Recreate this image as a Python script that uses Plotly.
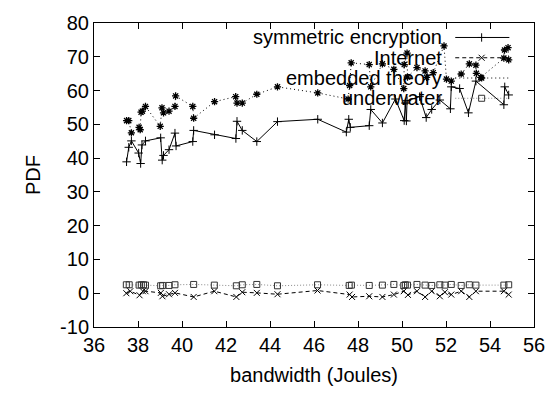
import plotly.graph_objects as go

# ---- data ----
sym_x = [37.48, 37.58, 37.70, 38.03, 38.12, 38.18, 38.34, 39.03, 39.10, 39.16, 39.41, 39.68, 39.73,
         40.49, 40.53, 41.48, 42.45, 42.50, 42.74, 43.40, 44.34, 46.17, 47.47, 47.58, 47.65, 48.51,
         48.58, 49.11, 49.70, 50.10, 50.15, 50.20, 50.23, 50.80, 51.10, 51.35, 51.72, 52.20, 52.24,
         52.62, 53.02, 53.36, 54.63, 54.67, 54.85]
sym_y = [38.9, 43.2, 45.1, 41.5, 38.4, 43.9, 45.1, 46.0, 39.4, 40.8, 42.5, 47.4, 43.6,
         44.9, 48.2, 46.9, 45.8, 50.9, 48.2, 44.9, 50.8, 51.5, 47.7, 51.5, 49.1, 49.6,
         54.4, 50.4, 57.5, 51.1, 56.3, 51.0, 57.0, 58.2, 52.0, 54.4, 57.2, 54.6, 61.1,
         60.6, 53.4, 62.8, 55.8, 61.1, 58.7]

emb_x = [37.48, 37.58, 37.70, 38.05, 38.10, 38.14, 38.20, 38.34, 39.01, 39.09, 39.16, 39.41, 39.68,
         39.71, 40.49, 40.53, 41.48, 42.44, 42.50, 42.74, 43.40, 44.34, 46.17, 47.55, 47.62, 47.69,
         48.51, 48.58, 49.11, 49.63, 50.08, 50.10, 50.23, 50.25, 50.68, 51.05, 51.12, 51.42, 51.91,
         52.02, 52.24, 52.69, 53.06, 53.36, 53.38, 53.58, 54.63, 54.66, 54.82, 54.85]
emb_y = [51.1, 51.1, 47.5, 49.1, 48.4, 53.6, 53.9, 55.3, 49.4, 54.9, 53.4, 53.9, 55.3,
         58.4, 55.3, 51.8, 56.7, 58.2, 56.3, 56.3, 58.9, 61.1, 59.3, 57.5, 61.5, 68.2,
         67.7, 61.1, 67.9, 66.3, 60.6, 67.7, 71.1, 64.0, 66.8, 65.8, 63.9, 65.3, 73.2,
         63.4, 62.8, 64.9, 67.9, 67.5, 65.1, 63.9, 69.6, 72.0, 72.7, 69.1]

int_x = [37.47, 37.65, 38.07, 38.22, 38.34, 39.04, 39.11, 39.41, 39.68, 40.53, 41.47, 42.47, 42.74,
         43.40, 44.34, 46.16, 47.62, 47.73, 48.51, 49.11, 49.63, 50.08, 50.27, 50.68, 51.05, 51.35,
         51.72, 51.95, 52.24, 52.69, 53.06, 53.36, 54.63, 54.85]
int_y = [0.0, 0.6, -0.6, 0.6, 0.6, 0.1, -0.9, -0.3, 0.1, -1.1, 0.6, -1.1, 0.3,
         0.1, -0.3, 0.8, -0.4, -1.1, -0.9, -1.1, -0.4, 0.6, -0.5, 0.6, -1.1, 0.6,
         -0.9, 0.3, -0.4, 0.6, -1.1, 0.6, 0.6, -0.4]

und_x = [37.47, 37.60, 38.05, 38.15, 38.25, 38.34, 39.03, 39.12, 39.41, 39.68, 40.53, 41.47, 42.47,
         42.74, 43.40, 44.34, 46.16, 47.60, 47.70, 48.51, 49.11, 49.63, 50.08, 50.15, 50.25, 50.68,
         51.05, 51.35, 51.72, 51.95, 52.24, 52.69, 53.06, 53.36, 54.63, 54.85]
und_y = [2.5, 2.5, 2.4, 2.5, 2.5, 2.4, 2.2, 2.3, 2.3, 2.5, 2.6, 2.4, 2.2,
         2.5, 2.6, 2.2, 2.5, 2.3, 2.4, 2.3, 2.4, 2.6, 2.3, 2.5, 2.4, 2.6,
         2.4, 2.3, 2.5, 2.4, 2.6, 2.3, 2.5, 2.4, 2.4, 2.5]

series_names = ["symmetric encryption", "Internet", "embedded theory", "underwater"]
x_ticks = [36, 38, 40, 42, 44, 46, 48, 50, 52, 54, 56]
y_ticks = [-10, 0, 10, 20, 30, 40, 50, 60, 70, 80]

FONT = "Liberation Sans, Arial, sans-serif"
styles = [
    dict(line=dict(color="black", width=1, dash="solid"),
         marker=dict(symbol="cross-thin-open", size=6, color="black", line=dict(color="black", width=1))),
    dict(line=dict(color="black", width=1, dash="4px,3px"),
         marker=dict(symbol="x-thin-open", size=6, color="black", line=dict(color="black", width=1))),
    dict(line=dict(color="black", width=1, dash="1px,3px"),
         marker=dict(symbol="asterisk-open", size=6, color="black", line=dict(color="black", width=1.3))),
    dict(line=dict(color="#8a8a8a", width=1, dash="1px,2px"),
         marker=dict(symbol="square-open", size=6, color="#333333", line=dict(color="#333333", width=1))),
]
data_sets = [(sym_x, sym_y), (int_x, int_y), (emb_x, emb_y), (und_x, und_y)]

fig = go.Figure()
for (xs, ys), name, st in zip(data_sets, series_names, styles):
    fig.add_trace(go.Scatter(x=xs, y=ys, mode="lines+markers", name=name,
                             line=st["line"], marker=st["marker"], showlegend=False))

# custom gnuplot-like key on an overlay axis (0..1)
rows = [0.9524, 0.8857, 0.8190, 0.7524]
for name, st, ry in zip(series_names, styles, rows):
    fig.add_trace(go.Scatter(x=[0.821, 0.944], y=[ry, ry], mode="lines", line=st["line"],
                             xaxis="x2", yaxis="y2", showlegend=False, hoverinfo="skip"))
    fig.add_trace(go.Scatter(x=[0.881], y=[ry], mode="markers", marker=st["marker"],
                             xaxis="x2", yaxis="y2", showlegend=False, hoverinfo="skip"))
    fig.add_annotation(x=0.795, y=ry, xref="x2", yref="y2", text=name, showarrow=False,
                       xanchor="right", yanchor="middle", font=dict(size=20, color="black", family=FONT))

axis_common = dict(showline=True, linecolor="black", linewidth=1, mirror="ticks",
                   ticks="inside", ticklen=6, tickcolor="black", showgrid=False, zeroline=False,
                   tickfont=dict(size=20, color="black", family=FONT))
fig.update_layout(
    width=557, height=394,
    margin=dict(l=94, r=17, t=17, b=62),
    paper_bgcolor="white", plot_bgcolor="white",
    font=dict(family=FONT, size=20, color="black"),
    xaxis=dict(range=[36, 56], tickvals=x_ticks, ticktext=[str(v) for v in x_ticks],
               title=dict(text="bandwidth (Joules)", standoff=12, font=dict(size=20)), **axis_common),
    yaxis=dict(range=[-10, 80], tickvals=y_ticks, ticktext=[str(v) for v in y_ticks],
               title=dict(text="PDF", standoff=14, font=dict(size=20)), **axis_common),
    xaxis2=dict(range=[0, 1], overlaying="x", visible=False, fixedrange=True),
    yaxis2=dict(range=[0, 1], overlaying="y", visible=False, fixedrange=True),
)
fig.write_html("out.html")
